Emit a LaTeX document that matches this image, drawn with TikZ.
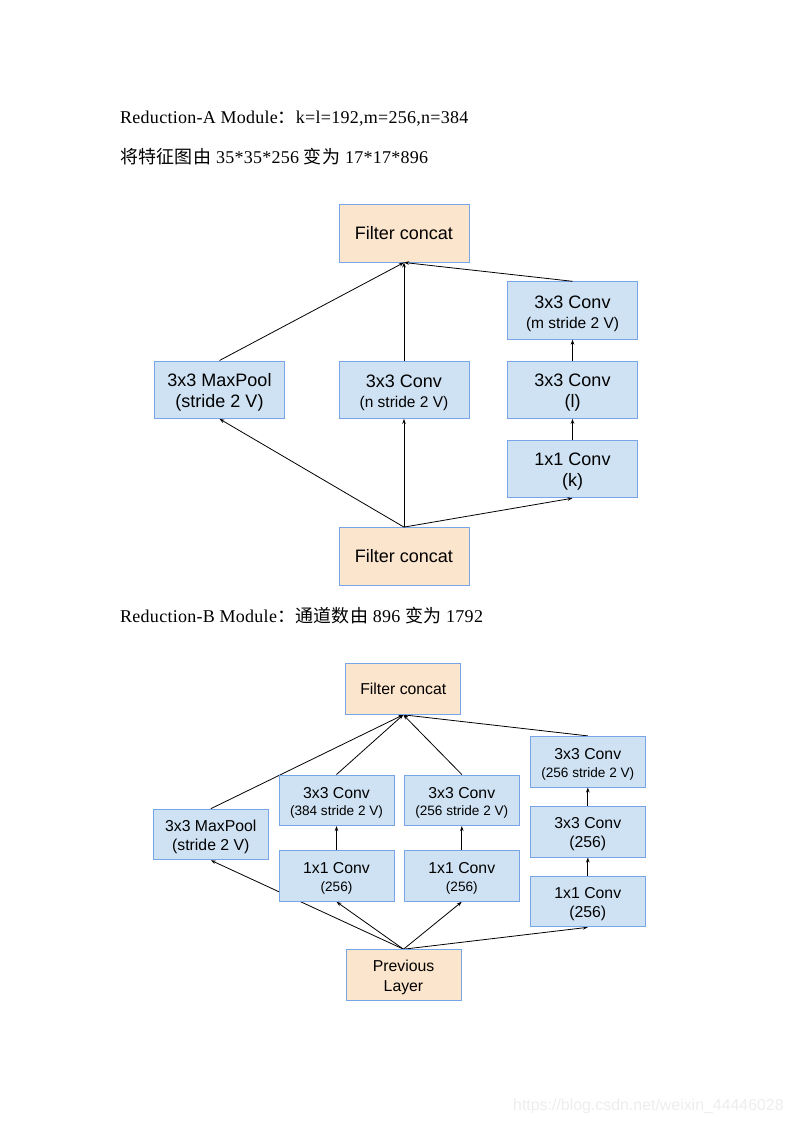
\documentclass[tikz,border=0pt]{standalone}
\usepackage{fontspec}
\setmainfont{Liberation Serif}[LetterSpace=1.5]
\setsansfont{Liberation Sans}
\newfontfamily\cjk{Noto Sans CJK SC}[LetterSpace=1.5]
\usetikzlibrary{arrows.meta,backgrounds}
\definecolor{boxblue}{RGB}{207,226,243}
\definecolor{boxorange}{RGB}{252,229,205}
\definecolor{boxline}{RGB}{120,165,232}

\begin{document}
\begin{tikzpicture}[x=1pt,y=-1pt,
    headtext/.style={anchor=base west, inner sep=0, font=\fontsize{18}{20}\selectfont},
    boxA/.style={draw=boxline, line width=0.9pt, inner sep=0, align=center,
      minimum width=130pt, minimum height=57.5pt, font=\sffamily\fontsize{18}{18}\selectfont},
    boxB/.style={boxA, minimum width=115pt, minimum height=50.7pt, font=\sffamily\fontsize{15.8}{16}\selectfont},
    conv/.style={fill=boxblue},
    concat/.style={fill=boxorange},
    flow/.style={-{Stealth[length=5pt,width=3.6pt]}, line width=0.8pt}]
  \useasboundingbox (0,0) rectangle (794,1123);
  % Small font for the second line of a box, strut pushing a two-line text down
  \def\subA{\fontsize{15.5}{15.5}\selectfont}
  \def\subB{\fontsize{13.6}{13.6}\selectfont}
  \def\tA{\rule{0pt}{18.5pt}}
  \def\tB{\rule{0pt}{16pt}}

  % Titles
  \node[headtext] (titleA) at (120,124) {Reduction-A Module{\cjk ：}k=l=192,m=256,n=384};
  \node[headtext] (sizeA) at (120,164) {{\cjk 将特征图由} 35*35*256 {\cjk 变为} 17*17*896};
  \node[headtext] (titleB) at (120,622) {Reduction-B Module{\cjk ：}{\cjk 通道数由} 896 {\cjk 变为} 1792};

  % Reduction-A
  \node[boxA, concat] (topA) at (404,233.3) {Filter concat};
  \node[boxA, conv] (poolA) at (219.5,389.7) {\tA 3x3 MaxPool\\[3pt](stride 2 V)};
  \node[boxA, conv] (nA) at (404,389.7) {\tA 3x3 Conv\\[2pt]{\subA(n stride 2 V)}};
  \node[boxA, conv] (mA) at (572.5,310.5) {\tA 3x3 Conv\\[2pt]{\subA(m stride 2 V)}};
  \node[boxA, conv] (lA) at (572.5,389.7) {\tA 3x3 Conv\\[3pt](l)};
  \node[boxA, conv] (kA) at (572.5,469) {\tA 1x1 Conv\\[3pt](k)};
  \node[boxA, concat] (botA) at (404,556.3) {Filter concat};

  \foreach \s/\t in {poolA/topA, nA/topA, mA/topA, botA/poolA, botA/nA, botA/kA}
    \draw[flow] (\s.north) -- (\t.south);
  \draw[flow] (kA) -- (lA);
  \draw[flow] (lA) -- (mA);

  % Reduction-B
  \node[boxB, concat] (topB) at (403.3,689) {Filter concat};
  \node[boxB, conv] (poolB) at (210.8,834.5) {\tB 3x3 MaxPool\\[3pt](stride 2 V)};
  \node[boxB, conv] (c2top) at (336.5,800.3) {\tB 3x3 Conv\\[1.5pt]{\subB(384 stride 2 V)}};
  \node[boxB, conv] (c2bot) at (336.5,876) {\tB 1x1 Conv\\[2pt]{\subB(256)}};
  \node[boxB, conv] (c3top) at (461.8,800.3) {\tB 3x3 Conv\\[1.5pt]{\subB(256 stride 2 V)}};
  \node[boxB, conv] (c3bot) at (461.8,876) {\tB 1x1 Conv\\[2pt]{\subB(256)}};
  \node[boxB, conv] (c4top) at (587.8,761.7) {\tB 3x3 Conv\\[1.5pt]{\subB(256 stride 2 V)}};
  \node[boxB, conv] (c4mid) at (587.8,831.7) {\tB 3x3 Conv\\[3pt](256)};
  \node[boxB, conv] (c4bot) at (587.8,901.5) {\tB 1x1 Conv\\[3pt](256)};
  \node[boxB, concat] (prevB) at (403.5,975) {\tB Previous\\[3.5pt]Layer};

  % edges go behind the boxes (one passes under c2bot)
  \begin{pgfonlayer}{background}
    \foreach \s/\t in {poolB/topB, c2top/topB, c3top/topB, c4top/topB,
                       prevB/poolB, prevB/c2bot, prevB/c3bot, prevB/c4bot}
      \draw[flow] (\s.north) -- (\t.south);
  \end{pgfonlayer}
  \draw[flow] (c2bot) -- (c2top);
  \draw[flow] (c3bot) -- (c3top);
  \draw[flow] (c4bot) -- (c4mid);
  \draw[flow] (c4mid) -- (c4top);

  % Watermark
  \node[anchor=base west, inner sep=0, text=black!7, font=\sffamily\fontsize{15.9}{16}\selectfont]
    (mark) at (513,1110) {https://blog.csdn.net/weixin\_44446028};
\end{tikzpicture}
\end{document}
